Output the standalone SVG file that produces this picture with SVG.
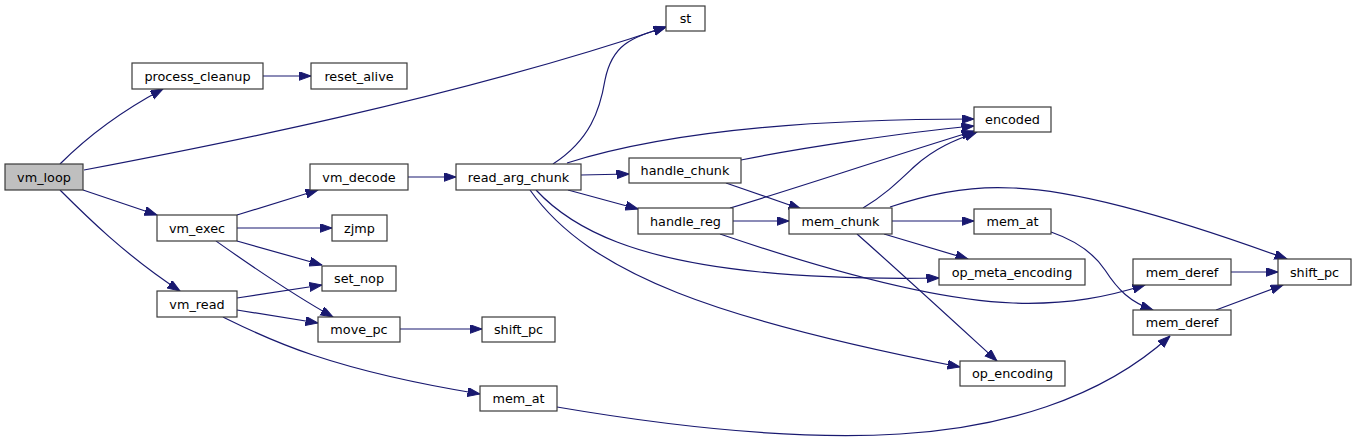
<svg xmlns="http://www.w3.org/2000/svg" width="1356" height="441" viewBox="0 0 1356 441">
<style>
.n rect{fill:#ffffff;stroke:#3a3a3a;stroke-width:1.2}
.n text{font-family:"DejaVu Sans",sans-serif;font-size:12.8px;fill:#000;text-anchor:middle}
#vm_loop rect{fill:#bfbfbf}
.e path{fill:none;stroke:#191970;stroke-width:1.2;marker-end:url(#ah)}
</style>
<defs>
<marker id="ah" markerUnits="userSpaceOnUse" markerWidth="13" markerHeight="10" refX="12.5" refY="4.5" orient="auto">
<path d="M0,0 L12.5,4.5 L0,9 z" fill="#191970" stroke="#191970" stroke-width="1"/>
</marker>
</defs>
<rect width="1356" height="441" fill="#ffffff"/>
<g id="edges" class="e">
<path d="M60,164 C80,144 112,116 163,89"/>
<path d="M84,170 C200,148 450,100 666,27"/>
<path d="M83,190 L157,215"/>
<path d="M60,190 C85,215 125,255 180,291"/>
<path d="M263,76 L311,76"/>
<path d="M237,215 L318,190"/>
<path d="M237,228 L332,228"/>
<path d="M237,241 L322,265"/>
<path d="M216,241 C240,258 285,290 333,317"/>
<path d="M237,298 L322,285"/>
<path d="M237,310 L318,323"/>
<path d="M223,317 C260,335 320,368 480,394"/>
<path d="M408,177 L456,177"/>
<path d="M553,164 C590,140 600,110 605,80 C612,45 630,38 666,27"/>
<path d="M567,163 C640,140 760,119 974,119"/>
<path d="M581,175 L629,174"/>
<path d="M568,190 L638,209"/>
<path d="M536,190 C575,232 640,260 760,272 C820,278 880,279 939,278"/>
<path d="M530,190 C590,275 720,320 960,367"/>
<path d="M741,160 C800,148 900,133 974,126"/>
<path d="M726,183 L801,209"/>
<path d="M730,208 C790,190 880,160 974,131"/>
<path d="M733,221 L789,221"/>
<path d="M720,234 C820,268 930,300 1013,303 C1070,305 1110,296 1145,285"/>
<path d="M863,208 C885,195 900,180 915,166 C935,148 955,140 977,132"/>
<path d="M892,221 L974,221"/>
<path d="M884,234 L968,259"/>
<path d="M857,234 C900,272 950,318 997,361"/>
<path d="M890,207 C940,190 980,186 1013,188 C1080,190 1180,220 1287,259"/>
<path d="M1051,232 C1080,242 1095,255 1105,270 C1118,290 1130,302 1153,310"/>
<path d="M1231,272 L1278,272"/>
<path d="M1216,310 L1283,285"/>
<path d="M557,407 C680,428 800,440 900,434 C1000,428 1100,400 1170,336"/>
<path d="M400,329 L482,329"/>
</g>
<g id="vm_loop" class="n"><rect x="5" y="164" width="78" height="26"/><text x="44" y="181.5">vm_loop</text></g>
<g id="process_cleanup" class="n"><rect x="132" y="63" width="131" height="26"/><text x="197.5" y="80.5">process_cleanup</text></g>
<g id="reset_alive" class="n"><rect x="311" y="63" width="96" height="26"/><text x="359" y="80.5">reset_alive</text></g>
<g id="st" class="n"><rect x="666" y="6" width="39" height="25"/><text x="685.5" y="23">st</text></g>
<g id="vm_exec" class="n"><rect x="157" y="215" width="80" height="26"/><text x="197" y="232.5">vm_exec</text></g>
<g id="vm_decode" class="n"><rect x="310" y="164" width="98" height="26"/><text x="359" y="181.5">vm_decode</text></g>
<g id="zjmp" class="n"><rect x="332" y="215" width="55" height="26"/><text x="359.5" y="232.5">zjmp</text></g>
<g id="set_nop" class="n"><rect x="322" y="266" width="74" height="25"/><text x="359" y="283">set_nop</text></g>
<g id="vm_read" class="n"><rect x="157" y="291" width="80" height="26"/><text x="197" y="308.5">vm_read</text></g>
<g id="move_pc" class="n"><rect x="318" y="317" width="82" height="25"/><text x="359" y="334">move_pc</text></g>
<g id="shift_pc_1" class="n"><rect x="482" y="317" width="73" height="25"/><text x="518.5" y="334">shift_pc</text></g>
<g id="mem_at_1" class="n"><rect x="480" y="386" width="77" height="25"/><text x="518.5" y="403">mem_at</text></g>
<g id="read_arg_chunk" class="n"><rect x="456" y="164" width="125" height="26"/><text x="518.5" y="181.5">read_arg_chunk</text></g>
<g id="handle_chunk" class="n"><rect x="629" y="158" width="112" height="25"/><text x="685" y="175">handle_chunk</text></g>
<g id="handle_reg" class="n"><rect x="638" y="208" width="95" height="26"/><text x="685.5" y="225.5">handle_reg</text></g>
<g id="mem_chunk" class="n"><rect x="789" y="208" width="103" height="26"/><text x="840.5" y="225.5">mem_chunk</text></g>
<g id="encoded" class="n"><rect x="974" y="107" width="77" height="25"/><text x="1012.5" y="124">encoded</text></g>
<g id="mem_at_2" class="n"><rect x="974" y="209" width="77" height="25"/><text x="1012.5" y="226">mem_at</text></g>
<g id="op_meta_encoding" class="n"><rect x="939" y="259" width="146" height="26"/><text x="1012" y="276.5">op_meta_encoding</text></g>
<g id="op_encoding" class="n"><rect x="960" y="361" width="105" height="25"/><text x="1012.5" y="378">op_encoding</text></g>
<g id="mem_deref_1" class="n"><rect x="1133" y="259" width="98" height="26"/><text x="1182" y="276.5">mem_deref</text></g>
<g id="mem_deref_2" class="n"><rect x="1133" y="310" width="98" height="25"/><text x="1182" y="327">mem_deref</text></g>
<g id="shift_pc_2" class="n"><rect x="1278" y="259" width="73" height="26"/><text x="1314.5" y="276.5">shift_pc</text></g>
</svg>
